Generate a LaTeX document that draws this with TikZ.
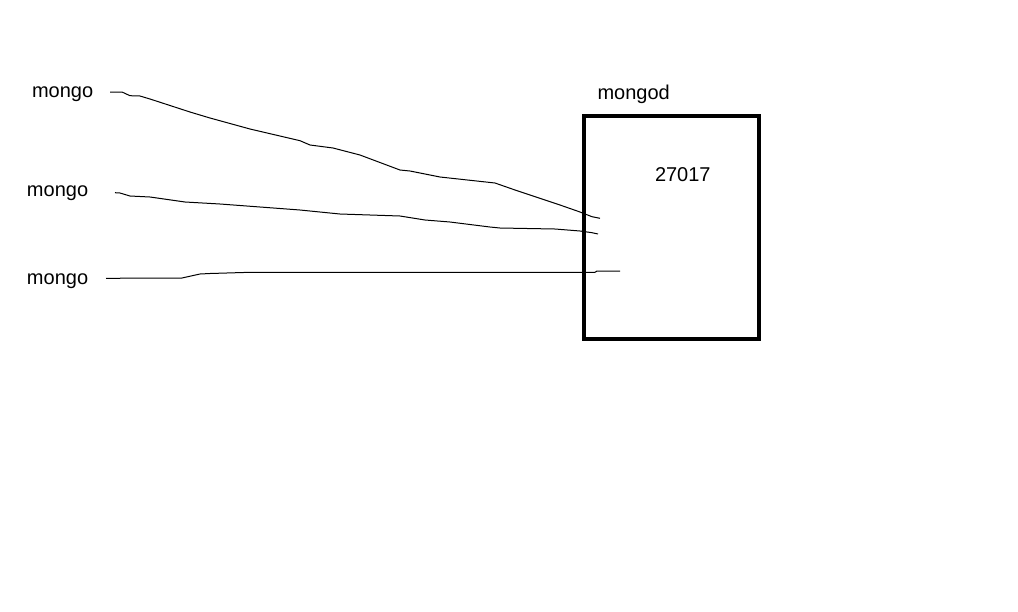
\documentclass[tikz,border=0pt]{standalone}
\usepackage{fontspec}
\setmainfont{Liberation Sans}
\begin{document}
\begin{tikzpicture}[x=1pt,y=-1pt,
  lbl/.style={anchor=base west,inner sep=0pt,outer sep=0pt,font=\fontsize{20}{24}\selectfont},
  srv/.style={draw,line width=4pt,rectangle,inner sep=0pt,minimum width=175pt,minimum height=223.3pt},
  wire/.style={line width=1pt,line join=round}]
\useasboundingbox[fill=white] (0,0) rectangle (1018,611);
\node[srv] (box) at (671.2,227.2) {};
\node[lbl] (m1) at (32,97.5) {mongo};
\node[lbl] (m2) at (27,196) {mongo};
\node[lbl] (m3) at (27,284.3) {mongo};
\node[lbl] (md) at (597.5,99) {mongod};
\node[lbl] (port) at (655,181.7) {27017};
\coordinate (s1) at (110,92);
\coordinate (e1) at (600,218.3);
\coordinate (s2) at (115,192.7);
\coordinate (e2) at (598,234);
\coordinate (s3) at (106,278.3);
\coordinate (e3) at (620,271);
\draw[wire] (s1) -- (122,92) -- (130,95.7) -- (140,96) -- (150,99) -- (190,112) -- (210,118)
  -- (250,129) -- (300,140.7) -- (310,145) -- (333,148) -- (360,155) -- (400,170) -- (410,171)
  -- (440,177) -- (495,183) -- (515,190) -- (560,205) -- (580,212) -- (592,216.7) -- (e1);
\draw[wire] (s2) -- (120,193) -- (130,196) -- (150,197) -- (185,202) -- (220,204) -- (300,210)
  -- (340,214) -- (400,216) -- (425,220) -- (450,222) -- (490,227) -- (500,228) -- (555,229)
  -- (580,231) -- (592,232.7) -- (e2);
\draw[wire] (s3) -- (182,278) -- (200,274) -- (210,273.5) -- (250,272.3) -- (595,272.3)
  -- (597,271) -- (e3);
\end{tikzpicture}
\end{document}
